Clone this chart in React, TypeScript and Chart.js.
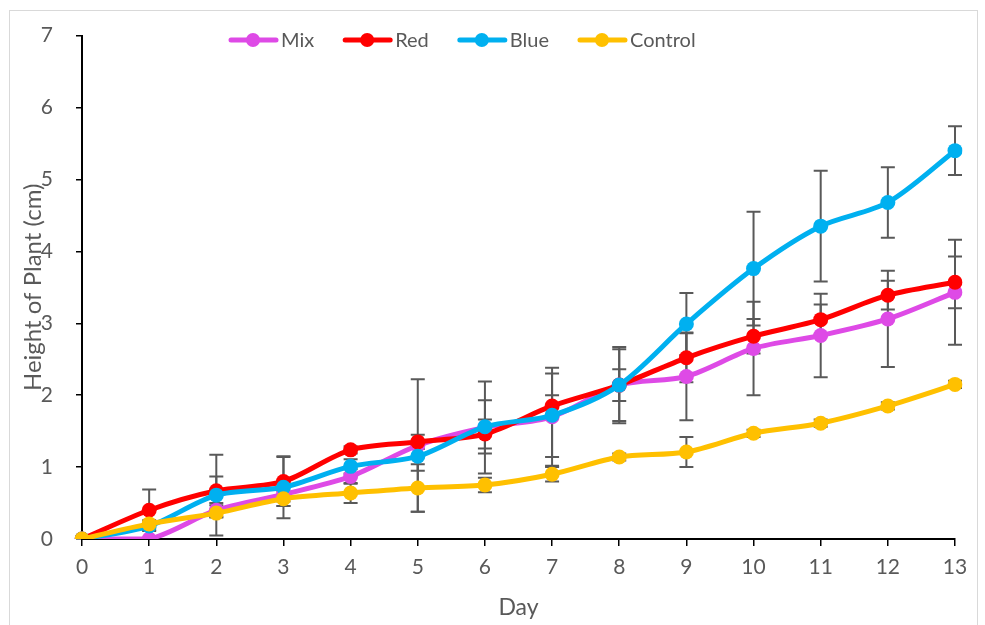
import { useEffect, useRef } from "react";
import { Chart, registerables } from "chart.js";

Chart.register(...registerables);

const days = ["0", "1", "2", "3", "4", "5", "6", "7", "8", "9", "10", "11", "12", "13"];

const mixValues = [0, 0, 0.4, 0.62, 0.87, 1.3, 1.55, 1.7, 2.14, 2.26, 2.65, 2.83, 3.06, 3.43];
const redValues = [0, 0.4, 0.67, 0.8, 1.24, 1.35, 1.46, 1.85, 2.14, 2.52, 2.82, 3.05, 3.39, 3.57];
const blueValues = [0, 0.18, 0.61, 0.72, 1.01, 1.15, 1.56, 1.72, 2.14, 2.99, 3.76, 4.35, 4.68, 5.4];
const controlValues = [0, 0.21, 0.36, 0.56, 0.64, 0.71, 0.75, 0.9, 1.14, 1.21, 1.47, 1.61, 1.85, 2.15];

const mixErrors = [0, 0, 0.1, 0.1, 0.1, 0.92, 0.64, 0.68, 0.5, 0.61, 0.65, 0.58, 0.67, 0.73];
const redErrors = [0, 0.29, 0.2, 0.34, 0.05, 0.1, 0.2, 0.15, 0.53, 0.34, 0.24, 0.21, 0.2, 0.36];
const blueErrors = [0, 0.05, 0.56, 0.43, 0.1, 0.2, 0.37, 0.58, 0.22, 0.43, 0.79, 0.77, 0.49, 0.34];
const controlErrors = [0, 0.05, 0.05, 0.1, 0.14, 0.33, 0.1, 0.1, 0.05, 0.21, 0.05, 0.05, 0.05, 0.05];

const seriesNames = ["Mix", "Red", "Blue", "Control"];
const seriesValues = [mixValues, redValues, blueValues, controlValues];
const seriesErrors = [mixErrors, redErrors, blueErrors, controlErrors];
const seriesColors = ["#DE4AE6", "#FF0000", "#00B0F0", "#FFC000"];

const yTicks = [0, 1, 2, 3, 4, 5, 6, 7];

const FONT = "Lato, 'Open Sans', sans-serif";
const TEXT = "#595959";

const framePlugin = {
  id: "frame",
  beforeDraw(chart: any) {
    const { ctx, width, height } = chart;
    ctx.save();
    ctx.fillStyle = "#ffffff";
    ctx.fillRect(0, 0, width, height);
    ctx.strokeStyle = "#D9D9D9";
    ctx.lineWidth = 1;
    ctx.strokeRect(9.5, 10.5, 968, 640);
    ctx.restore();
  },
};

const errorBarPlugin = {
  id: "errorBars",
  beforeDatasetsDraw(chart: any) {
    const { ctx } = chart;
    const xs = chart.scales.x;
    const ys = chart.scales.y;
    ctx.save();
    ctx.strokeStyle = "#595959";
    ctx.lineWidth = 2;
    seriesValues.forEach((vals, s) => {
      const errs = seriesErrors[s];
      vals.forEach((v, i) => {
        const e = errs[i];
        if (!e) return;
        const x = xs.getPixelForValue(i);
        const yt = ys.getPixelForValue(v + e);
        const yb = ys.getPixelForValue(Math.max(0, v - e));
        ctx.beginPath();
        ctx.moveTo(x, yt);
        ctx.lineTo(x, yb);
        ctx.moveTo(x - 7, yt);
        ctx.lineTo(x + 7, yt);
        ctx.moveTo(x - 7, yb);
        ctx.lineTo(x + 7, yb);
        ctx.stroke();
      });
    });
    ctx.restore();
  },
};

const legendPlugin = {
  id: "customLegend",
  afterDraw(chart: any) {
    const { ctx } = chart;
    ctx.save();
    ctx.font = `20px ${FONT}`;
    ctx.textBaseline = "middle";
    let x = 229;
    const y = 40;
    seriesNames.forEach((name, i) => {
      ctx.strokeStyle = seriesColors[i];
      ctx.fillStyle = seriesColors[i];
      ctx.lineWidth = 5;
      ctx.lineCap = "round";
      ctx.beginPath();
      ctx.moveTo(x + 2, y);
      ctx.lineTo(x + 47, y);
      ctx.stroke();
      ctx.beginPath();
      ctx.arc(x + 24, y, 7, 0, Math.PI * 2);
      ctx.fill();
      ctx.fillStyle = TEXT;
      ctx.fillText(name, x + 52, y + 1);
      x += 52 + ctx.measureText(name).width + 29;
    });
    ctx.restore();
  },
};

export default function App() {
  const ref = useRef<HTMLCanvasElement | null>(null);

  useEffect(() => {
    if (!ref.current) return;
    const chart = new Chart(ref.current, {
      type: "line",
      data: {
        labels: days,
        datasets: seriesNames.map((name, i) => ({
          label: name,
          data: seriesValues[i],
          borderColor: seriesColors[i],
          backgroundColor: seriesColors[i],
          borderWidth: 5,
          pointRadius: 7.5,
          pointBorderWidth: 0,
          pointBackgroundColor: seriesColors[i],
          pointBorderColor: seriesColors[i],
          tension: 0.3,
          fill: false,
          order: 4 - i,
        })),
      },
      options: {
        animation: false,
        responsive: false,
        devicePixelRatio: 1,
        layout: { padding: { top: 35, right: 30, left: 0, bottom: 0 } },
        plugins: {
          legend: { display: false },
          tooltip: { enabled: false },
        },
        scales: {
          x: {
            type: "category",
            grid: {
              drawOnChartArea: false,
              drawTicks: true,
              tickLength: 7,
              color: "#000000",
              lineWidth: 1.5,
            },
            border: { display: true, color: "#000000", width: 2 },
            ticks: {
              color: TEXT,
              font: { size: 21, family: FONT },
              padding: 9,
              maxRotation: 0,
              autoSkip: false,
            },
            title: {
              display: true,
              text: "Day",
              color: TEXT,
              font: { size: 23, family: FONT },
              padding: { top: 0, bottom: 4 },
            },
            afterFit: (s: any) => {
              s.height = 86;
            },
          },
          y: {
            min: 0,
            max: 7,
            afterBuildTicks: (s: any) => {
              s.ticks = yTicks.map((v) => ({ value: v }));
            },
            grid: {
              drawOnChartArea: false,
              drawTicks: true,
              tickLength: 6,
              color: "#000000",
              lineWidth: 1.5,
            },
            border: { display: true, color: "#000000", width: 2 },
            ticks: {
              color: TEXT,
              font: { size: 21, family: FONT },
              padding: 23,
            },
            title: {
              display: true,
              text: "Height of Plant (cm)",
              color: TEXT,
              font: { size: 24, family: FONT },
              padding: { top: 19, bottom: 0 },
            },
            afterFit: (s: any) => {
              s.width = 82;
            },
          },
        },
      },
      plugins: [framePlugin, errorBarPlugin, legendPlugin],
    });
    return () => chart.destroy();
  }, []);

  return (
    <div style={{ position: "fixed", left: 0, top: 0, width: 985, height: 625, background: "#fff" }}>
      <canvas ref={ref} width={985} height={625} style={{ width: 985, height: 625, display: "block" }} />
    </div>
  );
}
